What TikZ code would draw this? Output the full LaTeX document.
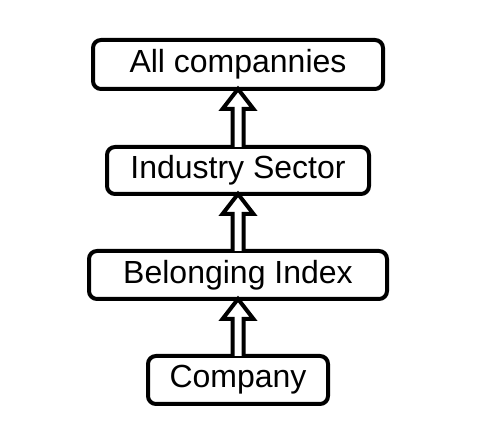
\documentclass[tikz,border=0pt]{standalone}
\usepackage{fontspec}
\setmainfont{Liberation Sans}
\usetikzlibrary{calc}
\tikzset{
  box/.style={draw=black, line width=4pt, rounded corners=8pt, fill=white,
    inner sep=0pt, outer sep=0pt, minimum height=48pt,
    font=\fontsize{32}{38}\selectfont},
  arrowline/.style={draw=black, line width=4pt, fill=white, line join=miter}
}
\newcommand\hollowarrow[2]{%
  \draw[arrowline] ($(#1.north)+(-5.5,0)$) -- ($(#2.south)+(-5.5,-20)$)
    -- ($(#2.south)+(-15.5,-20)$) -- (#2.south) -- ($(#2.south)+(15.5,-20)$)
    -- ($(#2.south)+(5.5,-20)$) -- ($(#1.north)+(5.5,0)$);}
\begin{document}
\begin{tikzpicture}[x=1pt,y=1pt]
\useasboundingbox (0,0) rectangle (485,441);
\node[box, minimum width=290pt, minimum height=49pt] (all) at (238,376.5) {All compannies};
\node[box, minimum width=262pt, minimum height=47pt] (sector) at (238,270.5) {Industry Sector};
\node[box, minimum width=298pt] (index) at (238,166) {Belonging Index};
\node[box, minimum width=180pt] (company) at (238,61) {Company};
\hollowarrow{sector}{all}
\hollowarrow{index}{sector}
\hollowarrow{company}{index}
\end{tikzpicture}
\end{document}
